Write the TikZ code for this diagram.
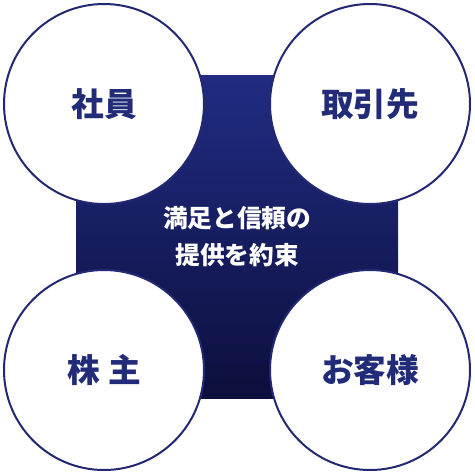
\documentclass[tikz,border=0pt]{standalone}
\usepackage{fontspec}
\newfontfamily\jpfont{Noto Sans CJK JP}
\definecolor{navytop}{RGB}{33,44,130}
\definecolor{navybottom}{RGB}{12,15,60}
\definecolor{navyline}{RGB}{35,40,115}
\definecolor{navytext}{RGB}{33,43,120}

\tikzset{every picture/.style={line width=0.75pt}}
\tikzset{
  party/.style={circle, draw=navyline, fill=white, line width=1.5pt, minimum size=150pt, inner sep=0pt,
    font=\jpfont\bfseries\fontsize{24.5pt}{28pt}\selectfont, text=navytext},
  promise/.style={align=center, text=white, inner sep=0.75pt,
    font=\jpfont\bfseries\fontsize{18.5pt}{27.75pt}\selectfont}
}

\begin{document}
\begin{tikzpicture}[x=0.75pt,y=0.75pt,yscale=-1,xscale=1]
	\useasboundingbox (0,0) rectangle (474,474);
	%Shape: Square [id:core]
	\shade [top color=navytop, bottom color=navybottom] (76,76) rectangle (398,398) ;
	
	%Shape: Circle [id:employees]
	\node [party] (employees) at (104,104) {社員};
	%Shape: Circle [id:partners]
	\node [party] (partners) at (370,104) {取引先};
	%Shape: Circle [id:shareholders]
	\node [party] (shareholders) at (104,370) {株\hspace{6.5pt}主};
	%Shape: Circle [id:customers]
	\node [party] (customers) at (370,370) {お客様};
	
	% Text Node
	\node [promise] (promise) at (237,237) {満足と信頼の\\提供を約束};
\end{tikzpicture}
\end{document}
